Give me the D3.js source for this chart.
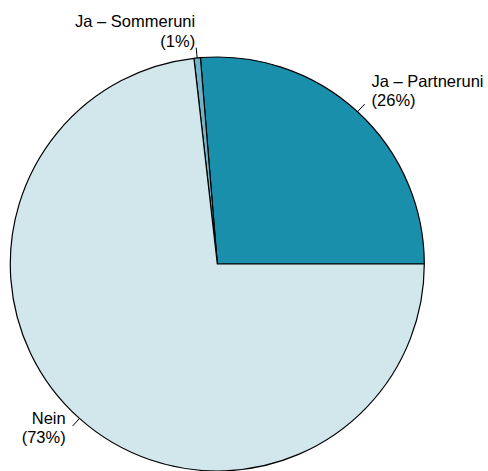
<!DOCTYPE html>
<html><head><meta charset="utf-8">
<script src="https://cdn.jsdelivr.net/npm/d3@7"></script>
<style>body{margin:0;background:#fff}svg{display:block}</style>
</head><body>
<script>
const categories = ["Ja – Partneruni", "Ja – Sommeruni", "Nein"];
const values = [26.3, 0.5, 73.2];
const percentLabels = ["(26%)", "(1%)", "(73%)"];
const colors = ["#1a8fab", "#72b5c8", "#d1e7ec"];

const W = 488, H = 471, cx = 217.3, cy = 264, r = 207;
const svg = d3.select("body").append("svg").attr("width", W).attr("height", H);
const g = svg.append("g").attr("transform", `translate(${cx},${cy})`);

const pie = d3.pie().sort(null).value(d => d).startAngle(Math.PI/2).endAngle(Math.PI/2 - 2*Math.PI);
const arcs = pie(values);
const arc = d3.arc().innerRadius(0).outerRadius(r);

g.selectAll("path.slice").data(arcs).enter().append("path")
  .attr("class","slice")
  .attr("d", arc)
  .attr("fill", (d,i) => colors[i])
  .attr("stroke", "#000").attr("stroke-width", 1.2).attr("stroke-linejoin","round");

arcs.forEach((d,i) => {
  const a = (d.startAngle + d.endAngle)/2;
  const ux = Math.sin(a), uy = -Math.cos(a);
  g.append("line")
    .attr("x1", ux*r).attr("y1", uy*r)
    .attr("x2", ux*r*1.05).attr("y2", uy*r*1.05)
    .attr("stroke","#000").attr("stroke-width",1);
  const tx = ux*r*1.1, ty = uy*r*1.1;
  const t = g.append("text")
    .attr("text-anchor", ux > 0 ? "start" : "end")
    .attr("font-family", "Liberation Sans, Arial, sans-serif")
    .attr("font-size", 16.5).attr("fill","#000");
  t.append("tspan").attr("x", tx).attr("y", ty - 10).text(categories[i]);
  t.append("tspan").attr("x", tx).attr("y", ty + 9.5).text(percentLabels[i]);
});
</script>
</body></html>
